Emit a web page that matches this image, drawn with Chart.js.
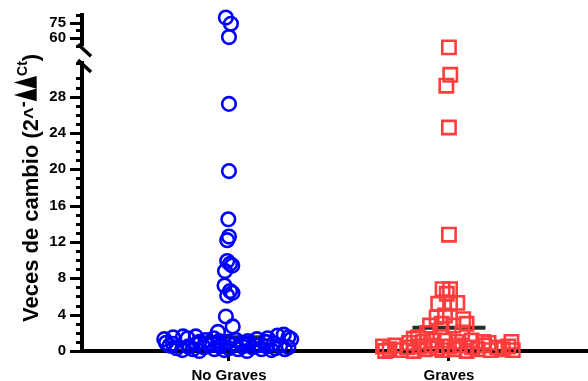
<!DOCTYPE html>
<html>
<head>
<meta charset="utf-8">
<script src="https://cdn.jsdelivr.net/npm/chart.js@4.4.1/dist/chart.umd.min.js"></script>
<style>
  html, body { margin: 0; padding: 0; background: #fff; }
  #wrap { width: 588px; height: 381px; }
</style>
</head>
<body>
<div id="wrap"><canvas id="chart"></canvas></div>
<script>
const categories = ['No Graves', 'Graves'];

// fold change per sample, and the horizontal scatter of each dot (in category units)
const noGravesFold = [
  80, 74, 61, 27.2, 19.8, 14.5, 12.6, 12.2, 9.9, 9.6, 9.4, 8.8, 7.2, 6.6, 6.4, 6.1, 3.8, 2.7, 2.1,
  1.3, 1.5, 1.6, 1.4, 1.6, 1.2, 1.4, 1.1, 1.0, 1.2, 0.9, 1.1, 1.3, 1.0, 1.4, 1.7, 1.8, 1.5, 1.3, 1.0,
  0.9, 0.6, 0.8, 0.3, 0.1, 0.5, 0.2, 0.8, 0.0, 0.4, 0.6, 0.2, 0.85, 0.5, 0.1, 0.3, 0.7, 0.2, 0.5, 0.0,
  0.8, 0.4, 0.6, 0.2, 0.5, 0.1, 0.85, 0.3, 0.6, 0.2, 0.4
];
const noGravesJitter = [
  -0.014, 0.009, 0, 0, 0, -0.003, 0, -0.008, -0.008, 0.005, 0.015, -0.018, -0.02, 0.005, 0.016, -0.008, -0.014, 0.017, -0.05,
  -0.294, -0.254, -0.209, -0.188, -0.151, -0.106, -0.069, -0.045, -0.005, 0.032, 0.061, 0.086, 0.127, 0.167, 0.176, 0.221, 0.249, 0.27, 0.283, -0.135,
  -0.286, -0.27, -0.254, -0.238, -0.212, -0.185, -0.164, -0.148, -0.135, -0.114, -0.09, -0.066, -0.05, -0.041, -0.021, 0, 0.021, 0.041, 0.061, 0.082,
  0.09, 0.106, 0.127, 0.148, 0.172, 0.193, 0.204, 0.212, 0.233, 0.254, 0.27
];

const gravesFold = [
  51, 30.4, 29.2, 24.6, 12.8,
  6.8, 6.8, 6.3, 5.2, 5.3, 5.2, 3.7, 3.9, 3.5, 2.8, 3.0, 2.8, 3.0,
  1.5, 1.35, 1.0, 1.15, 1.15, 1.0, 1.15, 1.0, 1.0, 2.0, 1.9,
  0.5, 0.0, 0.2, 0.6, 0.1, 0.4, 0.9, 0.0, 0.5, 0.2, 0.6, 0.3, 0.1,
  0.5, 0.2, 0.6, 0.0, 0.4, 0.2, 0.6, 0.9, 0.1, 0.4, 0.2, 0.5, 0.1
];
const gravesJitter = [
  0, 0.006, -0.012, 0, 0,
  -0.029, 0.005, -0.01, -0.049, 0.038, 0.005, -0.056, -0.018, 0.065, -0.086, -0.033, 0.02, 0.08,
  -0.141, -0.16, -0.117, -0.07, -0.018, 0.035, 0.103, 0.156, 0.284, -0.1, 0.06,
  -0.3, -0.29, -0.27, -0.245, -0.22, -0.19, -0.18, -0.16, -0.135, -0.11, -0.08, -0.055, -0.03,
  0, 0.025, 0.05, 0.08, 0.105, 0.13, 0.16, 0.18, 0.19, 0.22, 0.245, 0.27, 0.29
];

const medians = [1.5, 2.55];

const lowerTickLabels = [0, 4, 8, 12, 16, 20, 24, 28];
const upperTickLabels = [60, 75];
const breakAt = 40; // values above the break go on the top segment

Chart.defaults.font.family = '"Liberation Sans", Arial, sans-serif';
Chart.defaults.font.weight = 'bold';
Chart.defaults.color = '#000';

function dots(values, jitter, cat, upper) {
  return values
    .map((v, i) => ({ x: cat + jitter[i], y: v }))
    .filter(p => (upper ? p.y > breakAt : p.y <= breakAt));
}

function medianLine(i) {
  const c = i + 1;
  return [{ x: c - 0.166, y: medians[i] }, { x: c + 0.166, y: medians[i] }];
}

function flatFit(s) {
  s.paddingTop = 0; s.paddingBottom = 0; s.paddingLeft = 0; s.paddingRight = 0;
}

const blue = '#0000ff';
const red = '#ff3d3d';

const circleStyle = { pointStyle: 'circle', pointRadius: 6.8, borderWidth: 2.6, borderColor: blue, backgroundColor: 'rgba(0,0,0,0)', clip: false, order: 1 };
const squareStyle = { pointStyle: 'rect', pointRadius: 9.4, borderWidth: 2.6, borderColor: red, backgroundColor: 'rgba(0,0,0,0)', clip: false, order: 1 };
const medianStyle = { type: 'line', borderColor: '#2b2b2b', borderWidth: 4, pointRadius: 0, yAxisID: 'y', clip: false, order: 10 };

// y axis title with its superscript, tick marks and the axis break
const axisExtras = {
  id: 'axisExtras',
  afterDraw(chart) {
    const ctx = chart.ctx;
    const left = chart.chartArea.left;
    ctx.save();
    ctx.strokeStyle = '#000';
    ctx.lineWidth = 3;
    ['yTop', 'y'].forEach(id => {
      const s = chart.scales[id];
      s.ticks.forEach(t => {
        const py = Math.round(s.getPixelForValue(t.value)) + 0.5;
        const len = t.label !== '' ? 12 : 6;
        ctx.beginPath();
        ctx.moveTo(left - len, py);
        ctx.lineTo(left, py);
        ctx.stroke();
      });
    });
    ctx.lineWidth = 3.5;
    const breaks = [chart.scales.yTop.bottom + 4.5, chart.scales.y.top + 3];
    breaks.forEach(cy => {
      ctx.beginPath();
      ctx.moveTo(left - 4, cy - 6);
      ctx.lineTo(left + 9, cy + 6);
      ctx.stroke();
    });

    // rotated title
    ctx.translate(38, 322);
    ctx.rotate(-Math.PI / 2);
    ctx.fillStyle = '#000';
    ctx.textBaseline = 'alphabetic';
    ctx.textAlign = 'left';
    let x = 0;
    const put = (txt, font, rise, squeeze) => {
      ctx.font = font;
      const w = ctx.measureText(txt).width * (squeeze || 1);
      ctx.save();
      ctx.translate(x, -rise);
      ctx.scale(squeeze || 1, 1);
      ctx.fillText(txt, 0, 0);
      ctx.restore();
      x += w;
    };
    put('Veces de cambio (2', 'bold 22px "Liberation Sans", Arial', 0);
    put('^', 'bold 20px "Liberation Sans", Arial', 0);
    put('-', 'bold 18px "Liberation Sans", Arial', 9);
    put('\u25B2\u25B2', 'bold 30px "DejaVu Sans"', 5, 0.55);
    put('Ct', 'bold 14px "Liberation Sans", Arial', 11);
    put(')', 'bold 22px "Liberation Sans", Arial', 0);
    ctx.restore();
  }
};

new Chart(document.getElementById('chart'), {
  type: 'scatter',
  data: {
    datasets: [
      Object.assign({ data: medianLine(0) }, medianStyle),
      Object.assign({ data: medianLine(1) }, medianStyle),
      Object.assign({ data: dots(noGravesFold, noGravesJitter, 1, false), yAxisID: 'y' }, circleStyle),
      Object.assign({ data: dots(noGravesFold, noGravesJitter, 1, true), yAxisID: 'yTop' }, circleStyle),
      Object.assign({ data: dots(gravesFold, gravesJitter, 2, false), yAxisID: 'y' }, squareStyle),
      Object.assign({ data: dots(gravesFold, gravesJitter, 2, true), yAxisID: 'yTop' }, squareStyle)
    ]
  },
  options: {
    responsive: true,
    maintainAspectRatio: false,
    animation: false,
    events: [],
    layout: { autoPadding: false, padding: { top: 15, left: 0, right: 0, bottom: 0 } },
    plugins: { legend: { display: false }, tooltip: { enabled: false } },
    scales: {
      x: {
        type: 'linear',
        min: 0.332,
        max: 2.632,
        afterBuildTicks: s => { s.ticks = categories.map((c, i) => ({ value: i + 1 })); },
        ticks: {
          callback: v => categories[v - 1] || '',
          font: { size: 15, weight: 'bold' },
          color: '#000',
          padding: 6,
          maxRotation: 0,
          autoSkip: false
        },
        grid: { drawOnChartArea: false, tickLength: 10, tickWidth: 3, tickColor: '#000' },
        border: { color: '#000', width: 4 },
        afterFit: s => { flatFit(s); s.height = 30; }
      },
      y: {
        type: 'linear',
        position: 'left',
        stack: 'fold',
        stackWeight: 288,
        min: 0,
        max: 31.7,
        ticks: {
          stepSize: 1,
          autoSkip: false,
          padding: 8,
          font: { size: 15, weight: 'bold' },
          color: '#000',
          callback: v => (lowerTickLabels.includes(v) ? String(v) : '')
        },
        grid: { display: false },
        border: { color: '#000', width: 4 },
        afterFit: s => { flatFit(s); s.width = 82; }
      },
      yGap: {
        type: 'linear',
        position: 'left',
        stack: 'fold',
        stackWeight: 17.2,
        min: 0,
        max: 1,
        ticks: { display: false },
        grid: { display: false },
        border: { display: false },
        afterFit: s => { flatFit(s); s.width = 0; }
      },
      yTop: {
        type: 'linear',
        position: 'left',
        stack: 'fold',
        stackWeight: 30.8,
        min: 52.5,
        max: 82.5,
        ticks: {
          stepSize: 7.5,
          autoSkip: false,
          padding: 8,
          font: { size: 15, weight: 'bold' },
          color: '#000',
          callback: v => (upperTickLabels.includes(v) ? String(v) : '')
        },
        grid: { display: false },
        border: { color: '#000', width: 4 },
        afterFit: s => { flatFit(s); s.width = 82; }
      }
    }
  },
  plugins: [axisExtras]
});
</script>
</body>
</html>
